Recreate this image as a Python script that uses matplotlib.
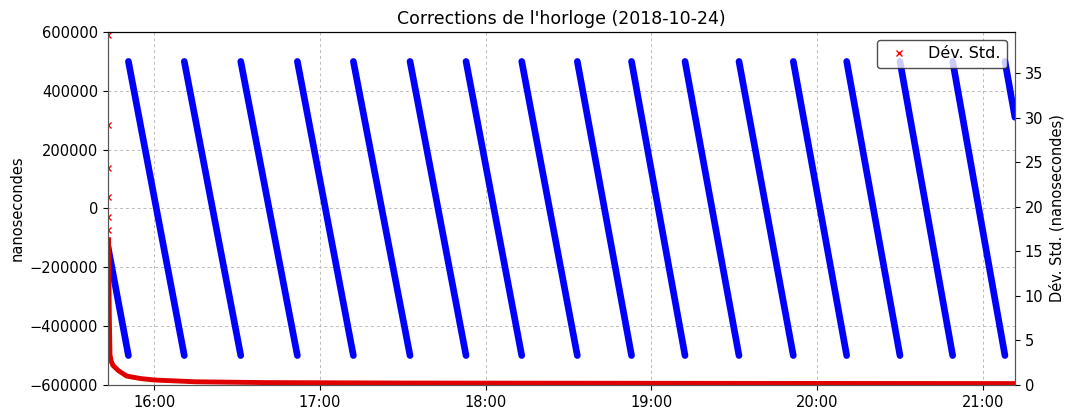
import matplotlib
matplotlib.use('Agg')
import matplotlib.pyplot as plt
import matplotlib.dates as mdates
import pandas as pd

day = '2018-10-24'

# clock corrections (ns): linear drift from +500000 to -500000, reset at each time below
t_start = '15:43:12'
t_end = '21:11:39'
resets = ['15:50:36', '16:10:50', '16:31:17', '16:51:47', '17:12:04', '17:32:35',
          '17:52:52', '18:13:02', '18:33:10', '18:52:48', '19:12:10', '19:31:43',
          '19:51:23', '20:10:43', '20:30:01', '20:49:06', '21:08:02']
corr_high = 500000
corr_low = -500000
corr_first = -130000
corr_last = 310000

# standard deviation (ns)
std_early_t = ['15:43:12', '15:43:14', '15:43:16', '15:43:18', '15:43:20', '15:43:22']
std_early = [39.3, 29.2, 24.3, 21.1, 18.8, 17.4]
std_t = ['15:43:25', '15:43:40', '15:43:55', '15:44:20', '15:45:00', '15:47:00',
         '15:50:00', '15:55:00', '16:00:00', '16:15:00', '16:40:00', '17:30:00',
         '18:30:00', '19:30:00', '20:30:00', '21:11:39']
std_vals = [16.3, 8.0, 3.4, 2.7, 2.2, 1.6, 1.0, 0.72, 0.56, 0.36, 0.27, 0.22,
            0.2, 0.18, 0.17, 0.16]


def ts(s):
    return pd.Timestamp(day + ' ' + s)


fig = plt.figure(figsize=(10.65, 4.15), dpi=100)
ax = fig.add_axes([0.1014, 0.0723, 0.8516, 0.8506])

seg_t0 = [t_start] + resets
seg_t1 = resets + [t_end]
seg_v0 = [corr_first] + [corr_high] * len(resets)
seg_v1 = [corr_low] * len(resets) + [corr_last]
for a, b, va, vb in zip(seg_t0, seg_t1, seg_v0, seg_v1):
    ax.plot([ts(a), ts(b)], [va, vb], color='blue', linewidth=4.8,
            solid_capstyle='round')

ax.set_ylim(-600000, 600000)
ax.set_xlim(ts(t_start), ts(t_end))
ax.set_ylabel('nanosecondes', fontsize=10.5)
ax.set_title("Corrections de l'horloge (2018-10-24)", fontsize=12.5)
ax.grid(True, linestyle=(0, (3, 3)), color='#bbbbbb', linewidth=0.7)
ax.xaxis.set_major_locator(mdates.HourLocator())
ax.xaxis.set_major_formatter(mdates.DateFormatter('%H:%M'))
ax.tick_params(labelsize=10.5)
for side in ('left', 'bottom', 'right'):
    ax.spines[side].set_color('#555555')

ax2 = ax.twinx()
ax2.plot([ts(t) for t in std_t], std_vals, color='#e00000', linewidth=3.5)
ax2.plot([ts(t) for t in std_early_t], std_early, 'x',
         color='red', markersize=4, markeredgewidth=1, label='Dév. Std.')
ax2.set_ylim(0, 39.6)
ax2.set_ylabel('Dév. Std. (nanosecondes)', fontsize=10.5)
ax2.tick_params(labelsize=10.5)
ax2.set_xlim(ts(t_start), ts(t_end))
for side in ('left', 'bottom', 'right'):
    ax2.spines[side].set_color('#555555')
ax2.legend(loc='upper right', fontsize=11.5, edgecolor='#222222')

fig.savefig('out.png', dpi=100)
